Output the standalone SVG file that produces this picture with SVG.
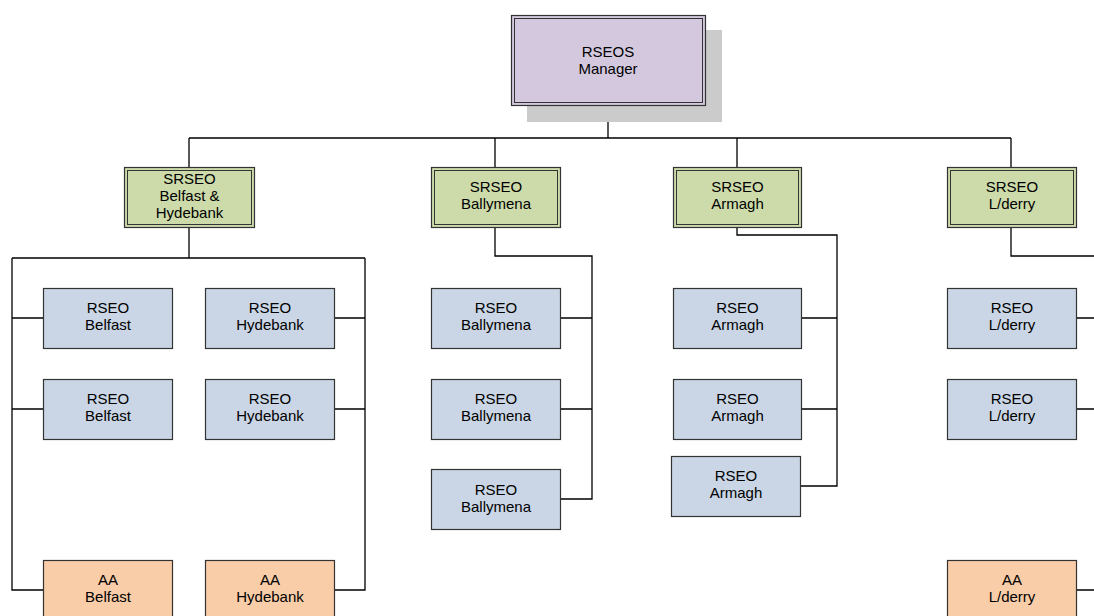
<svg xmlns="http://www.w3.org/2000/svg" width="1094" height="616" viewBox="0 0 1094 616">
<style>
text{font-family:"Liberation Sans",Arial,sans-serif;font-size:15px;fill:#000;text-anchor:middle}
.c{fill:none;stroke:#000;stroke-width:1.3}
.box{stroke:#333;stroke-width:1.2}
.in{fill:none;stroke:#333;stroke-width:1}
.mgr{fill:#D3C8DE}
.sr{fill:#CDDBAB}
.rs{fill:#CAD6E5}
.aa{fill:#F9CDA8}
</style>
<rect width="1094" height="616" fill="#fff"/>
<g id="connectors">
<path class="c" d="M608 105V138M189 138H1011M189 138V167M495 138V167M737 138V167M1011 138V167"/>
<path class="c" d="M189 228V258M12 258H365M12 258V590H43M12 318H43M12 409H43M365 258V590H334M365 318H334M365 409H334"/>
<path class="c" d="M495 228V256H592V499H560M560 318H592M560 409H592"/>
<path class="c" d="M737 228V235H837V486H801M802 318H837M802 409H837"/>
<path class="c" d="M1011 228V256H1094M1076 318H1094M1076 409H1094M1076 590H1094"/>
</g>
<g id="manager">
<rect x="527" y="30" width="195" height="92" fill="#CBCBCB"/>
<rect class="box mgr" x="511.5" y="15.5" width="194" height="90"/>
<rect class="in" x="514.5" y="18.5" width="188" height="84"/>
<text x="608" y="57">RSEOS</text>
<text x="608" y="74">Manager</text>
</g>
<g id="srseo-belfast">
<rect class="box sr" x="124.5" y="167.5" width="130" height="60"/>
<rect class="in" x="127.5" y="170.5" width="124" height="54"/>
<text x="189.5" y="184">SRSEO</text>
<text x="189.5" y="201">Belfast &amp;</text>
<text x="189.5" y="218">Hydebank</text>
</g>
<g id="srseo-ballymena">
<rect class="box sr" x="431.5" y="167.5" width="129" height="60"/>
<rect class="in" x="434.5" y="170.5" width="123" height="54"/>
<text x="496" y="192">SRSEO</text>
<text x="496" y="209">Ballymena</text>
</g>
<g id="srseo-armagh">
<rect class="box sr" x="673.5" y="167.5" width="128" height="60"/>
<rect class="in" x="676.5" y="170.5" width="122" height="54"/>
<text x="737.5" y="192">SRSEO</text>
<text x="737.5" y="209">Armagh</text>
</g>
<g id="srseo-lderry">
<rect class="box sr" x="947.5" y="167.5" width="129" height="60"/>
<rect class="in" x="950.5" y="170.5" width="123" height="54"/>
<text x="1012" y="192">SRSEO</text>
<text x="1012" y="209">L/derry</text>
</g>
<g id="rseo-belfast-1"><rect class="box rs" x="43.5" y="288.5" width="129" height="60"/><text x="108" y="313">RSEO</text><text x="108" y="330">Belfast</text></g>
<g id="rseo-belfast-2"><rect class="box rs" x="43.5" y="379.5" width="129" height="60"/><text x="108" y="404">RSEO</text><text x="108" y="421">Belfast</text></g>
<g id="rseo-hydebank-1"><rect class="box rs" x="205.5" y="288.5" width="129" height="60"/><text x="270" y="313">RSEO</text><text x="270" y="330">Hydebank</text></g>
<g id="rseo-hydebank-2"><rect class="box rs" x="205.5" y="379.5" width="129" height="60"/><text x="270" y="404">RSEO</text><text x="270" y="421">Hydebank</text></g>
<g id="aa-belfast"><rect class="box aa" x="43.5" y="560.5" width="129" height="70"/><text x="108" y="585">AA</text><text x="108" y="602">Belfast</text></g>
<g id="aa-hydebank"><rect class="box aa" x="205.5" y="560.5" width="129" height="70"/><text x="270" y="585">AA</text><text x="270" y="602">Hydebank</text></g>
<g id="rseo-ballymena-1"><rect class="box rs" x="431.5" y="288.5" width="129" height="60"/><text x="496" y="313">RSEO</text><text x="496" y="330">Ballymena</text></g>
<g id="rseo-ballymena-2"><rect class="box rs" x="431.5" y="379.5" width="129" height="60"/><text x="496" y="404">RSEO</text><text x="496" y="421">Ballymena</text></g>
<g id="rseo-ballymena-3"><rect class="box rs" x="431.5" y="469.5" width="129" height="60"/><text x="496" y="495">RSEO</text><text x="496" y="512">Ballymena</text></g>
<g id="rseo-armagh-1"><rect class="box rs" x="673.5" y="288.5" width="128" height="60"/><text x="737.5" y="313">RSEO</text><text x="737.5" y="330">Armagh</text></g>
<g id="rseo-armagh-2"><rect class="box rs" x="673.5" y="379.5" width="128" height="60"/><text x="737.5" y="404">RSEO</text><text x="737.5" y="421">Armagh</text></g>
<g id="rseo-armagh-3"><rect class="box rs" x="671.5" y="456.5" width="129" height="60"/><text x="736" y="481">RSEO</text><text x="736" y="498">Armagh</text></g>
<g id="rseo-lderry-1"><rect class="box rs" x="947.5" y="288.5" width="129" height="60"/><text x="1012" y="313">RSEO</text><text x="1012" y="330">L/derry</text></g>
<g id="rseo-lderry-2"><rect class="box rs" x="947.5" y="379.5" width="129" height="60"/><text x="1012" y="404">RSEO</text><text x="1012" y="421">L/derry</text></g>
<g id="aa-lderry"><rect class="box aa" x="947.5" y="560.5" width="129" height="70"/><text x="1012" y="585">AA</text><text x="1012" y="602">L/derry</text></g>
</svg>
